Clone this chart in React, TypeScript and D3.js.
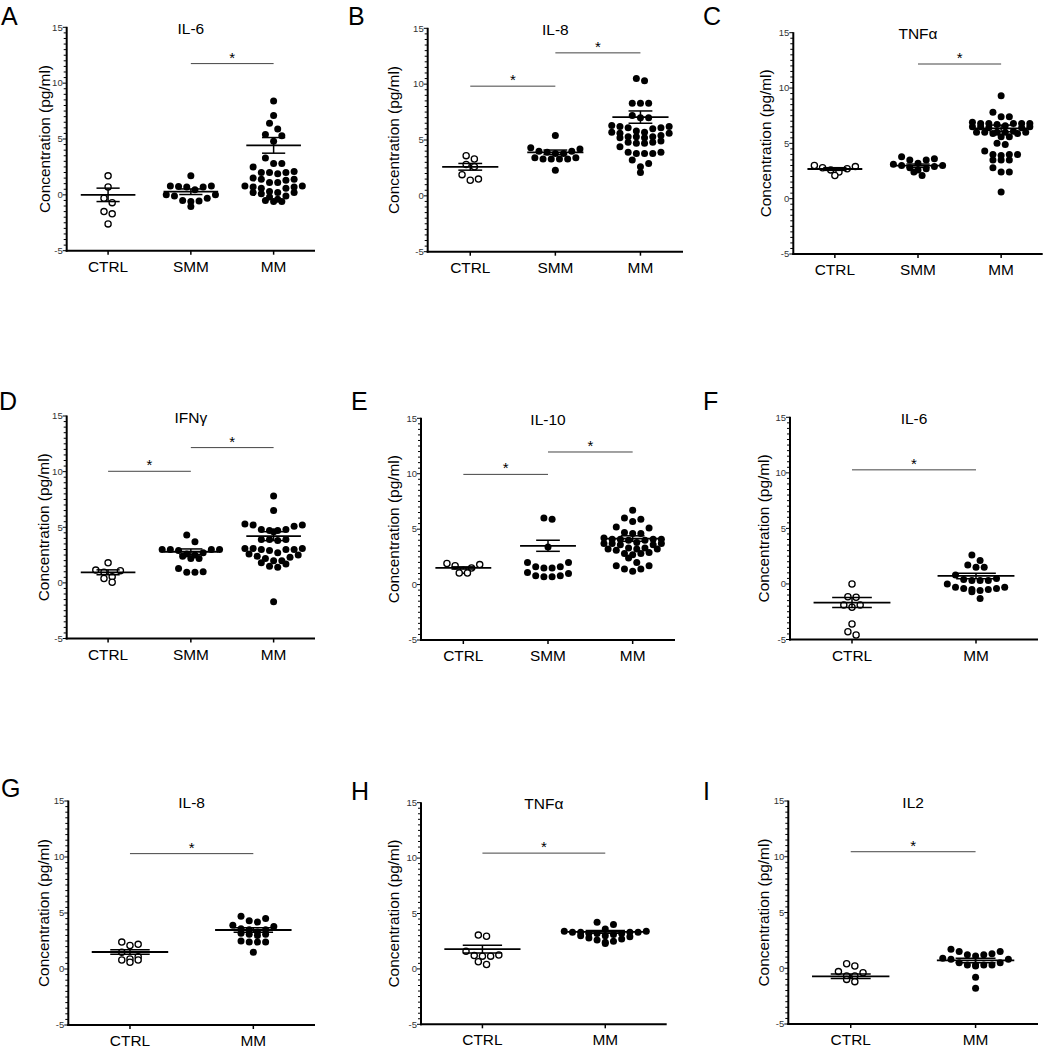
import * as d3 from 'd3';

// ---- data (pg/ml) ----
const panelLetters = ['A', 'B', 'C', 'D', 'E', 'F', 'G', 'H', 'I'];
const panelTitles = ['IL-6', 'IL-8', 'TNFα', 'IFNγ', 'IL-10', 'IL-6', 'IL-8', 'TNFα', 'IL2'];
const threeGroups = ['CTRL', 'SMM', 'MM'];
const twoGroups = ['CTRL', 'MM'];
const panelGroups = [threeGroups, threeGroups, threeGroups, threeGroups, threeGroups, twoGroups, twoGroups, twoGroups, twoGroups];
const yTickLabels = [15, 10, 5, 0, -5];

const aCtrl = [1.7, 0.7, -0.3, -0.7, -1.5, -1.7, -2.6];
const aSmm = [1.7, 0.8, 0.8, 0.75, 0.7, 0.7, 0.45, 0.0, 0.0, -0.1, -0.3, -0.5, -0.55, -0.6, -1.05];
const aMm = [8.4, 7.1, 6.4, 5.9, 5.4, 5.3, 4.8, 3.3, 2.8, 2.8, 2.5, 2.1, 2.0, 2.0, 2.0, 1.9, 1.5, 1.4, 1.4, 1.3, 1.1, 1.1, 0.8, 0.8, 0.7, 0.7, 0.6, 0.6, 0.3, 0.2, 0.2, 0.2, 0.1, -0.1, -0.2, -0.4, -0.5, -0.6, -0.6];

const bCtrl = [3.6, 3.3, 2.8, 2.6, 1.9, 1.4, 1.5];
const bSmm = [5.4, 4.3, 4.2, 4.0, 4.0, 3.9, 3.8, 3.8, 3.4, 3.4, 3.3, 3.3, 3.3, 3.3, 2.3];
const bMm = [10.5, 10.3, 8.3, 8.3, 8.3, 7.2, 7.0, 7.0, 6.3, 6.2, 6.2, 6.1, 6.1, 6.0, 5.8, 5.7, 5.7, 5.6, 5.6, 5.4, 5.3, 5.3, 5.3, 5.2, 5.2, 4.9, 4.8, 4.8, 4.7, 4.7, 4.4, 3.9, 3.9, 3.8, 3.8, 3.8, 3.2, 2.9, 2.6, 2.1];

const cCtrl = [3.0, 2.9, 2.8, 2.7, 2.6, 2.4, 2.1];
const cSmm = [3.8, 3.6, 3.5, 3.5, 3.2, 3.1, 3.0, 3.0, 2.9, 2.8, 2.7, 2.6, 2.4, 2.1];
const cMm = [9.3, 7.8, 7.4, 7.4, 6.9, 6.8, 6.8, 6.8, 6.8, 6.8, 6.7, 6.6, 6.5, 6.5, 6.5, 6.4, 6.4, 6.1, 6.0, 6.0, 6.0, 6.0, 6.0, 5.9, 5.9, 5.6, 5.6, 5.0, 4.9, 4.3, 4.0, 4.0, 4.0, 3.9, 3.5, 3.5, 3.5, 2.8, 2.4, 2.4, 0.6];

const dCtrl = [1.8, 1.15, 1.1, 0.95, 0.55, 0.4, 0.05];
const dSmm = [4.3, 3.7, 3.0, 3.0, 3.0, 3.0, 2.9, 2.7, 2.6, 2.5, 2.4, 2.2, 2.2, 1.3, 1.0, 0.95, 0.95];
const dMm = [7.8, 6.5, 5.3, 5.2, 5.2, 5.1, 4.8, 4.8, 4.7, 4.7, 4.6, 3.9, 3.9, 3.9, 3.8, 3.1, 3.1, 3.1, 3.0, 3.0, 3.0, 2.9, 2.7, 2.6, 2.5, 2.4, 2.3, 2.2, 2.0, 2.0, 1.8, 1.7, 1.5, 1.4, -1.7];

const eCtrl = [1.9, 1.8, 1.7, 1.5, 1.3, 1.05, 1.05];
const eSmm = [6.0, 5.9, 3.4, 2.0, 2.0, 1.6, 1.6, 1.5, 1.5, 1.1, 1.0, 0.8, 0.8, 0.7, 0.7];
const eMm = [6.7, 6.0, 5.9, 5.7, 5.2, 5.1, 4.7, 4.6, 4.6, 4.2, 4.1, 4.1, 4.1, 4.1, 4.0, 4.0, 3.8, 3.7, 3.7, 3.7, 3.6, 3.6, 3.3, 3.3, 3.2, 3.2, 3.2, 3.1, 2.9, 2.8, 2.8, 2.7, 2.4, 2.0, 1.7, 1.7, 1.4, 1.4, 1.2];

const fCtrl = [0.0, -1.15, -1.2, -1.9, -1.9, -2.1, -3.6, -4.3, -4.6];
const fMm = [2.6, 2.1, 1.7, 1.5, 1.5, 0.8, 0.5, 0.4, 0.3, 0.3, 0.3, 0.0, -0.3, -0.3, -0.4, -0.4, -0.5, -0.5, -0.6, -0.7, -1.3];

const gCtrl = [2.4, 2.2, 2.1, 1.5, 1.1, 0.9, 0.8, 0.8, 0.6];
const gMm = [4.7, 4.5, 4.3, 4.2, 3.9, 3.8, 3.6, 3.5, 3.5, 3.3, 3.2, 3.1, 3.1, 3.0, 2.5, 2.4, 2.4, 2.4, 1.5];

const hCtrl = [3.05, 2.95, 1.6, 1.25, 1.2, 1.15, 1.15, 0.65, 0.4];
const hMm = [4.2, 4.0, 3.6, 3.4, 3.4, 3.3, 3.3, 3.3, 3.3, 3.2, 3.2, 3.2, 3.1, 3.0, 3.0, 2.9, 2.8, 2.7, 2.6, 2.5, 2.4, 2.3];

const iCtrl = [0.4, 0.2, -0.3, -0.4, -0.7, -0.7, -1.0, -1.2];
const iMm = [1.7, 1.5, 1.5, 1.3, 1.2, 1.2, 1.1, 0.9, 0.8, 0.8, 0.5, 0.5, 0.3, 0.3, 0.3, 0.3, 0.2, -0.8, -1.8];

const panelValues = [
  [aCtrl, aSmm, aMm],
  [bCtrl, bSmm, bMm],
  [cCtrl, cSmm, cMm],
  [dCtrl, dSmm, dMm],
  [eCtrl, eSmm, eMm],
  [fCtrl, fMm],
  [gCtrl, gMm],
  [hCtrl, hMm],
  [iCtrl, iMm],
];

// mean and SEM as plotted
const panelMeans = [
  [0.0, 0.28, 4.43],
  [2.6, 3.9, 7.05],
  [2.68, 2.98, 6.35],
  [0.95, 2.8, 4.2],
  [1.5, 3.5, 4.15],
  [-1.68, 0.72],
  [1.52, 3.48],
  [1.78, 3.34],
  [-0.72, 0.7],
];
const panelSems = [
  [0.6, 0.25, 0.7],
  [0.3, 0.2, 0.55],
  [0.12, 0.15, 0.3],
  [0.22, 0.25, 0.4],
  [0.1, 0.5, 0.25],
  [0.45, 0.25],
  [0.2, 0.2],
  [0.35, 0.12],
  [0.2, 0.2],
];

// significance bars: [from, to, level]
const panelSig: [string, string, number][][] = [
  [['SMM', 'MM', 11.75]],
  [['CTRL', 'SMM', 9.82], ['SMM', 'MM', 12.8]],
  [['SMM', 'MM', 12.17]],
  [['CTRL', 'SMM', 10.03], ['SMM', 'MM', 12.16]],
  [['CTRL', 'SMM', 9.94], ['SMM', 'MM', 11.96]],
  [['CTRL', 'MM', 10.27]],
  [['CTRL', 'MM', 10.3]],
  [['CTRL', 'MM', 10.45]],
  [['CTRL', 'MM', 10.45]],
];

// ---- layout ----
const layout = [
  { left: 66.7, right: 315, top: 27.3, bottom: 250.7, labelX: 45, letterX: 1, letterY: 25 },
  { left: 427.7, right: 683, top: 28.3, bottom: 251.7, labelX: 393.3, letterX: 348, letterY: 25 },
  { left: 793.3, right: 1042.7, top: 32.7, bottom: 254, labelX: 765.7, letterX: 703, letterY: 25 },
  { left: 66.7, right: 315, top: 416, bottom: 638.5, labelX: 43.3, letterX: -1, letterY: 410 },
  { left: 421, right: 675, top: 418.3, bottom: 640, labelX: 393.3, letterX: 351, letterY: 410 },
  { left: 790, right: 1038, top: 417.3, bottom: 639.5, labelX: 763.3, letterX: 703, letterY: 410 },
  { left: 68.3, right: 315, top: 801, bottom: 1025, labelX: 43.3, letterX: 1, letterY: 797 },
  { left: 421, right: 666.7, top: 802.7, bottom: 1024.3, labelX: 394, letterX: 351, letterY: 800 },
  { left: 788.3, right: 1038, top: 801, bottom: 1024, labelX: 764, letterX: 703, letterY: 800 },
];

const FONT = '"Liberation Sans", Arial, Helvetica, sans-serif';
const DOT_R = 3.5;
const COL_W = 8.2; // horizontal spacing inside a row
const ROW_H = 7; // points closer than this (px) to the row's first point share the row

// GraphPad-like scatter: points grouped into rows, each row centred,
// higher values pushed to the outside of the row
function swarm(values: number[], y: d3.ScaleLinear<number, number>, rowMax: number) {
  const order = d3.range(values.length).sort((a, b) => values[b] - values[a]);
  const rows: number[][] = [];
  let start = -Infinity;
  for (const i of order) {
    const py = y(values[i]);
    const last = rows[rows.length - 1];
    if (!last || py - start >= ROW_H || last.length >= rowMax) {
      rows.push([i]);
      start = py;
    } else {
      last.push(i);
    }
  }
  const out: { i: number; y: number; dx: number }[] = [];
  rows.forEach(row => {
    const n = row.length;
    const slots = d3.range(n).map(k => (k - (n - 1) / 2) * COL_W);
    // outermost first, alternating left / right
    const ordered: number[] = [];
    let lo = 0;
    let hi = n - 1;
    let left = true;
    while (lo <= hi) {
      ordered.push(left ? slots[lo++] : slots[hi--]);
      left = !left;
    }
    row.forEach((i, k) => out.push({ i, y: y(values[i]), dx: ordered[k] }));
  });
  return out;
}

function Panel({ idx }: { idx: number }) {
  const L = layout[idx];
  const groups = panelGroups[idx];
  const x = d3.scaleBand<string>().domain(groups).range([L.left, L.right]).padding(0);
  const y = d3.scaleLinear().domain([-5, 15]).range([L.bottom, L.top]);
  const cx = (g: string) => (x(g) ?? 0) + x.bandwidth() / 2;
  const three = groups.length === 3;
  const meanHalf = x.bandwidth() * (three ? 0.33 : 0.31);
  const capHalf = x.bandwidth() * (three ? 0.14 : 0.16);
  const rowMax = three ? 8 : 11;
  const minor = d3.range(-5, 15.01, 0.5);
  const midY = (L.top + L.bottom) / 2;

  return (
    <g fontFamily={FONT}>
      <text x={L.letterX} y={L.letterY} fontSize={25}>{panelLetters[idx]}</text>
      <text x={(L.left + L.right) / 2} y={L.top + 6.5} fontSize={15.5} textAnchor="middle">{panelTitles[idx]}</text>
      <text transform={`translate(${L.labelX},${midY}) rotate(-90)`} dy="0.35em" fontSize={15.4} textAnchor="middle">
        Concentration (pg/ml)
      </text>

      {/* y axis */}
      {minor.map(v => (
        <line key={'m' + v} x1={L.left - (v % 5 === 0 ? 4 : 3)} x2={L.left} y1={y(v)} y2={y(v)} stroke="#000" strokeWidth={1} />
      ))}
      {yTickLabels.map(v => (
        <text key={'t' + v} x={L.left - 4} y={y(v)} dy="0.35em" fontSize={9.5} fill="#333" textAnchor="end">{v}</text>
      ))}
      <line x1={L.left} x2={L.left} y1={L.top - 0.5} y2={L.bottom + 1} stroke="#000" strokeWidth={2} />

      {/* x axis */}
      <line x1={L.left - 1} x2={L.right} y1={L.bottom} y2={L.bottom} stroke="#000" strokeWidth={2} />
      {groups.map(g => (
        <g key={'x' + g}>
          <line x1={cx(g)} x2={cx(g)} y1={L.bottom} y2={L.bottom + 4} stroke="#000" strokeWidth={1.5} />
          <text x={cx(g)} y={L.bottom + 21} fontSize={15.4} textAnchor="middle">{g}</text>
        </g>
      ))}

      {/* significance */}
      {panelSig[idx].map(([a, b, lv], k) => (
        <g key={'s' + k}>
          <line x1={cx(a)} x2={cx(b)} y1={y(lv)} y2={y(lv)} stroke="#444" strokeWidth={1} />
          <text x={(cx(a) + cx(b)) / 2} y={y(lv) - 1} fontSize={15} textAnchor="middle">*</text>
        </g>
      ))}

      {/* dots */}
      {groups.map((g, gi) => {
        const open = g === 'CTRL';
        return swarm(panelValues[idx][gi], y, rowMax).map(p => (
          <circle
            key={g + p.i}
            cx={cx(g) + p.dx}
            cy={p.y}
            r={open ? DOT_R - 0.4 : DOT_R}
            fill={open ? '#fff' : '#000'}
            stroke="#000"
            strokeWidth={open ? 1.3 : 0}
          />
        ));
      })}

      {/* mean +/- SEM */}
      {groups.map((g, gi) => {
        const m = panelMeans[idx][gi];
        const s = panelSems[idx][gi];
        const c = cx(g);
        return (
          <g key={'e' + g} stroke="#000">
            <line x1={c - meanHalf} x2={c + meanHalf} y1={y(m)} y2={y(m)} strokeWidth={1.8} />
            <line x1={c} x2={c} y1={y(m + s)} y2={y(m - s)} strokeWidth={1.5} />
            <line x1={c - capHalf} x2={c + capHalf} y1={y(m + s)} y2={y(m + s)} strokeWidth={1.5} />
            <line x1={c - capHalf} x2={c + capHalf} y1={y(m - s)} y2={y(m - s)} strokeWidth={1.5} />
          </g>
        );
      })}
    </g>
  );
}

export default function App() {
  return (
    <div style={{ position: 'absolute', left: 0, top: 0, background: '#fff' }}>
      <svg width={1046} height={1050} style={{ display: 'block' }}>
        <rect width={1046} height={1050} fill="#fff" />
        {panelLetters.map((_, i) => (
          <Panel key={i} idx={i} />
        ))}
      </svg>
    </div>
  );
}
